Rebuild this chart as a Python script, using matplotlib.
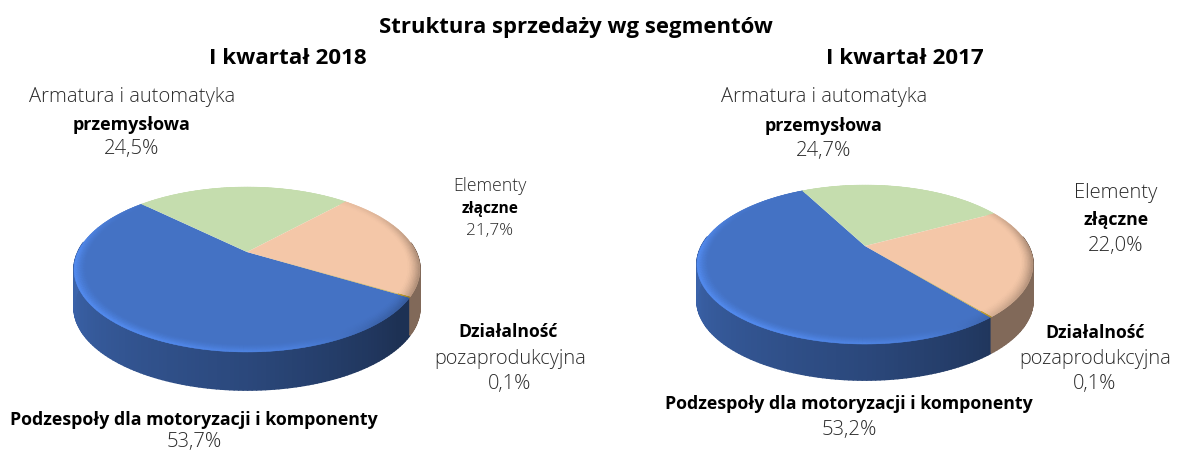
import numpy as np
import matplotlib
matplotlib.use("Agg")
import matplotlib.pyplot as plt
from matplotlib.collections import PolyCollection
from matplotlib.colors import to_rgb

# ---- data ----
segments = ["Podzespoły dla motoryzacji i komponenty", "Armatura i automatyka przemysłowa",
            "Elementy złączne", "Działalność pozaprodukcyjna"]
values_2018 = [53.7, 24.5, 21.7, 0.1]
values_2017 = [53.2, 24.7, 22.0, 0.1]
labels_2018 = ["53,7%", "24,5%", "21,7%", "0,1%"]
labels_2017 = ["53,2%", "24,7%", "22,0%", "0,1%"]
title = "Struktura sprzedaży wg segmentów"
period_2018 = "I kwartał 2018"
period_2017 = "I kwartał 2017"
colors = ["#4472C4", "#C5DDAE", "#F4C7A8", "#C0A030"]

plt.rcParams['font.family'] = ['Open Sans', 'DejaVu Sans']
fig = plt.figure(figsize=(11.79, 4.52), dpi=100)
ax = fig.add_axes([0, 0, 1, 1])
ax.set_xlim(0, 1179)
ax.set_ylim(452, 0)
ax.axis('off')


def project(t, r, g):
    """Perspective projection of a point on the disc to pixel coordinates."""
    u, v = r * np.cos(t), r * np.sin(t)
    w = 1 + g['k'] * v
    return g['cx'] + g['A'] * u / w, g['cy'] - g['B'] * v / w


def wall_shade(deg):
    d = np.mod(deg, 360)
    return np.interp(d, [0, 180, 200, 270, 320, 345, 360], [.50, .88, .84, .63, .43, .42, .50])


def rim_gain(deg):
    d = np.mod(deg, 360)
    return np.interp(d, [0, 30, 60, 120, 150, 180, 240, 285, 310, 340, 360],
                     [-.24, -.08, 0, 0, .05, .22, .22, .12, -.12, -.26, -.24])


def draw_pie(values, start, g):
    # slices run clockwise from the first slice's start angle
    sweeps = np.array(values) / np.sum(values) * 360
    edges = start - np.concatenate([[0], np.cumsum(sweeps)])
    walls, wall_cols, faces, face_cols, rims, rim_cols = [], [], [], [], [], []
    radii = np.linspace(.935, 1, 9)
    for i, col in enumerate(colors):
        base = np.array(to_rgb(col))
        n = max(2, int(sweeps[i] / 1.2))
        ts = np.linspace(edges[i], edges[i + 1], n + 1)
        rad = np.radians(ts)
        x, y = project(rad, np.ones_like(rad), g)
        faces.append(np.vstack([[g['cx'], g['cy']], np.column_stack([x, y])]))
        face_cols.append(base)
        for j in range(n):
            mid = (ts[j] + ts[j + 1]) / 2
            if np.sin(np.radians(mid)) < .12 and i != 3:
                shade = wall_shade(mid) if i == 0 else (.53 if i == 2 else .6)
                walls.append([[x[j], y[j]], [x[j + 1], y[j + 1]],
                              [x[j + 1], y[j + 1] + g['depth']], [x[j], y[j] + g['depth']]])
                wall_cols.append(np.clip(base * shade, 0, 1))
            gain = rim_gain(mid)
            if i == 2:
                gain = min(gain, 0) * 1.1
            if i == 1:
                gain = 0
            for m in range(len(radii) - 1):
                p = (m + 1) / (len(radii) - 1)
                ri, ro = radii[m], radii[m + 1]
                xi, yi = project(rad[j:j + 2], ri, g)
                xo, yo = project(rad[j:j + 2], ro, g)
                rims.append(np.column_stack([np.r_[xi, xo[::-1]], np.r_[yi, yo[::-1]]]))
                rim_cols.append(np.clip(base * (1 + gain * p ** 1.5), 0, 1))
    ax.add_collection(PolyCollection(walls, facecolors=wall_cols, edgecolors=wall_cols, linewidths=1.2, zorder=1))
    ax.add_collection(PolyCollection(faces, facecolors=face_cols, edgecolors='none', zorder=2))
    ax.add_collection(PolyCollection(rims, facecolors=rim_cols, edgecolors=rim_cols, linewidths=.3, zorder=3))


geo_2018 = dict(cx=247, cy=253, A=169, B=78.8, k=.212, depth=38)
geo_2017 = dict(cx=865, cy=247, A=163.4, B=75.2, k=.233, depth=36)
draw_pie(values_2018, -31, geo_2018)
draw_pie(values_2017, -51, geo_2017)


def T(x, y, s, size, bold=False):
    ax.text(x, y + 2, s, ha='center', va='center', fontsize=size, color='black' if bold else '#2a2a2a',
            fontweight='bold' if bold else 'light')


T(576, 25, title, 15.9, True)
T(288, 57, period_2018, 16.1, True)
T(905, 57, period_2017, 16.1, True)

T(132, 95, "Armatura i automatyka", 14.5)
T(132, 123, "przemysłowa", 12.9, True)
T(132, 147, labels_2018[1], 14.6)
T(490, 184, "Elementy", 12.7)
T(490, 207, "złączne", 11.2, True)
T(490, 229, labels_2018[2], 12.3)
T(508, 330, "Działalność", 12.6, True)
T(510, 357, "pozaprodukcyjna", 14.3)
T(510, 382, labels_2018[3], 14.4)
T(194, 418, segments[0], 12.8, True)
T(194, 440, labels_2018[0], 14.6)

T(824, 95, "Armatura i automatyka", 14.5)
T(824, 124, "przemysłowa", 12.9, True)
T(824, 149, labels_2017[1], 14.6)
T(1116, 191, "Elementy", 14.5)
T(1116, 218, "złączne", 12.8, True)
T(1116, 244, labels_2017[2], 14.6)
T(1095, 331, "Działalność", 12.6, True)
T(1095, 357, "pozaprodukcyjna", 14.3)
T(1095, 382, labels_2017[3], 14.4)
T(849, 402, segments[0], 12.8, True)
T(849, 428, labels_2017[0], 14.6)

fig.savefig("out.png", dpi=100)
